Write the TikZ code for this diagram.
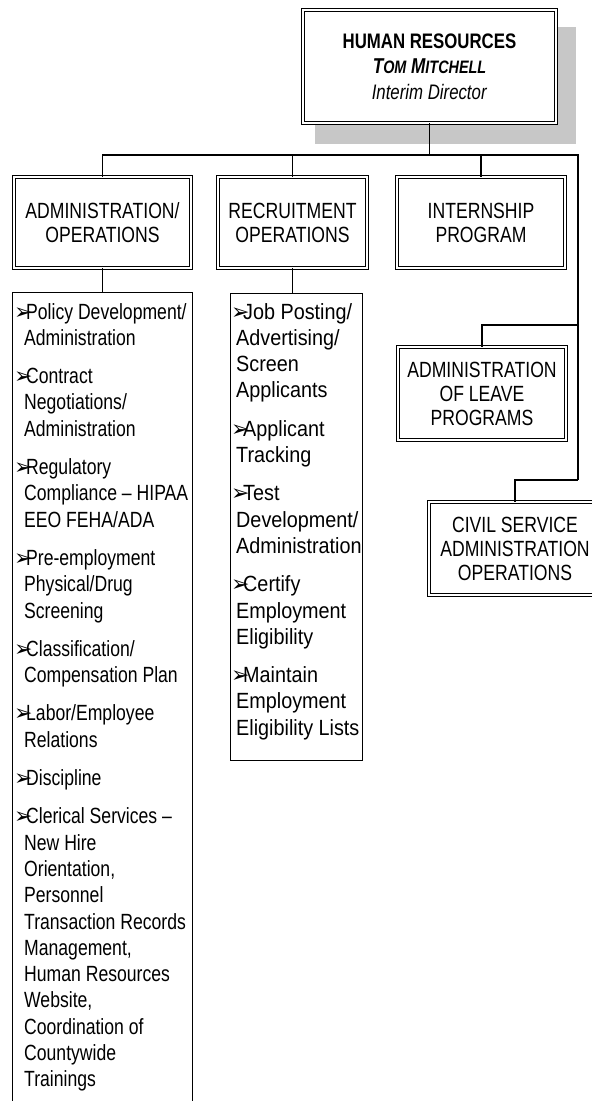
\documentclass[tikz,border=0pt]{standalone}
\usepackage{fontspec}
\setmainfont{Liberation Sans}
\newfontfamily\nfont{Liberation Sans}[FakeStretch=0.8]
\newfontfamily\rfont{Liberation Sans}[FakeStretch=0.9]
\newfontfamily\symfont{DejaVu Sans}
\newcommand\abul{\makebox[12pt][l]{\raisebox{0pt}{\symfont\fontsize{22}{22}\selectfont ➢}}}
\newcommand\acnt{\hspace*{10pt}}
\newcommand\rcnt{\hspace*{5pt}}
\newcommand\bigc[1]{{\fontsize{21.5}{25.5}\selectfont #1}}
\newcommand\smc[1]{{\fontsize{18}{25.5}\selectfont #1}}
\begin{document}
\begin{tikzpicture}[x=1pt,y=-1pt,
  hdr/.style={draw, double, double distance=2pt, line width=0.9pt, fill=white, inner sep=0pt, align=center, font=\nfont\fontsize{22}{24}\selectfont},
  listbox/.style={draw, line width=1pt, fill=white, inner sep=0pt, anchor=north west},
  listtext/.style={anchor=base west, inner sep=0pt},
  conn/.style={line width=1.2pt}]
\useasboundingbox (0,0) rectangle (592,1101);
\clip (0,0) rectangle (592,1101);
\fill[white] (0,0) rectangle (592,1101);
% shadow of the top box
\fill[black!22] (315,27) rectangle (576,144);
% boxes
\node[hdr, minimum width=253, minimum height=113, font=\nfont\fontsize{21}{25.5}\selectfont] (hr) at (429.5,66.5)
  {\textbf{HUMAN RESOURCES}\\ \textbf{\textit{\bigc{T}\smc{OM} \bigc{M}\smc{ITCHELL}}}\\ \textit{Interim Director}};
\node[hdr, minimum width=177, minimum height=91] (adm) at (102.5,222.5) {ADMINISTRATION/\\OPERATIONS};
\node[hdr, minimum width=149, minimum height=91] (rec) at (292.5,222.5) {RECRUITMENT\\OPERATIONS};
\node[hdr, minimum width=168, minimum height=91] (int) at (481,222.5) {INTERNSHIP\\PROGRAM};
\node[hdr, minimum width=168, minimum height=93] (leave) at (482,393.5) {ADMINISTRATION\\OF LEAVE\\PROGRAMS};
\node[hdr, minimum width=172, minimum height=93] (civil) at (515,548.5) {CIVIL SERVICE\\ADMINISTRATION\\OPERATIONS};
\node[listbox, minimum width=180, minimum height=820] (alist) at (12,292) {};
\node[listbox, minimum width=132, minimum height=467] (rlist) at (230,293) {};
% list texts
\node[listtext, font=\nfont\fontsize{22}{26.3}\selectfont] (atext) at (14,319) {\parbox[t]{220pt}{\raggedright
\abul Policy Development/\\
\acnt Administration\\[12pt]
\abul Contract\\
\acnt Negotiations/\\
\acnt Administration\\[12pt]
\abul Regulatory\\
\acnt Compliance – HIPAA\\
\acnt EEO FEHA/ADA\\[12pt]
\abul Pre-employment\\
\acnt Physical/Drug\\
\acnt Screening\\[12pt]
\abul Classification/\\
\acnt Compensation Plan\\[12pt]
\abul Labor/Employee\\
\acnt Relations\\[12pt]
\abul Discipline\\[12pt]
\abul Clerical Services –\\
\acnt New Hire\\
\acnt Orientation,\\
\acnt Personnel\\
\acnt Transaction Records\\
\acnt Management,\\
\acnt Human Resources\\
\acnt Website,\\
\acnt Coordination of\\
\acnt Countywide\\
\acnt Trainings}};
\node[listtext, font=\rfont\fontsize{22}{26.3}\selectfont] (rtext) at (231,319) {\parbox[t]{160pt}{\raggedright
\abul Job Posting/\\
\rcnt Advertising/\\
\rcnt Screen\\
\rcnt Applicants\\[12pt]
\abul Applicant\\
\rcnt Tracking\\[12pt]
\abul Test\\
\rcnt Development/\\
\rcnt Administration\\[12pt]
\abul Certify\\
\rcnt Employment\\
\rcnt Eligibility\\[12pt]
\abul Maintain\\
\rcnt Employment\\
\rcnt Eligibility Lists}};
% connectors
\coordinate (bus) at (0,155);
\coordinate (trunktop) at (578,155);
\coordinate (lj) at (578,325);
\coordinate (trunkbot) at (578,480);
\draw[conn] (hr.south) -- (hr.south |- bus);
\draw[conn] (adm.north) |- (trunktop) -- (trunkbot);
\draw[conn] (rec.north) -- (rec.north |- bus);
\draw[conn] (int.north) -- (int.north |- bus);
\draw[conn] (leave.north) |- (lj);
\draw[conn] (civil.north) |- (trunkbot);
\draw[conn] (adm.south) -- (alist.north);
\draw[conn] (rec.south) -- (rec.south |- rlist.north);
\end{tikzpicture}
\end{document}
